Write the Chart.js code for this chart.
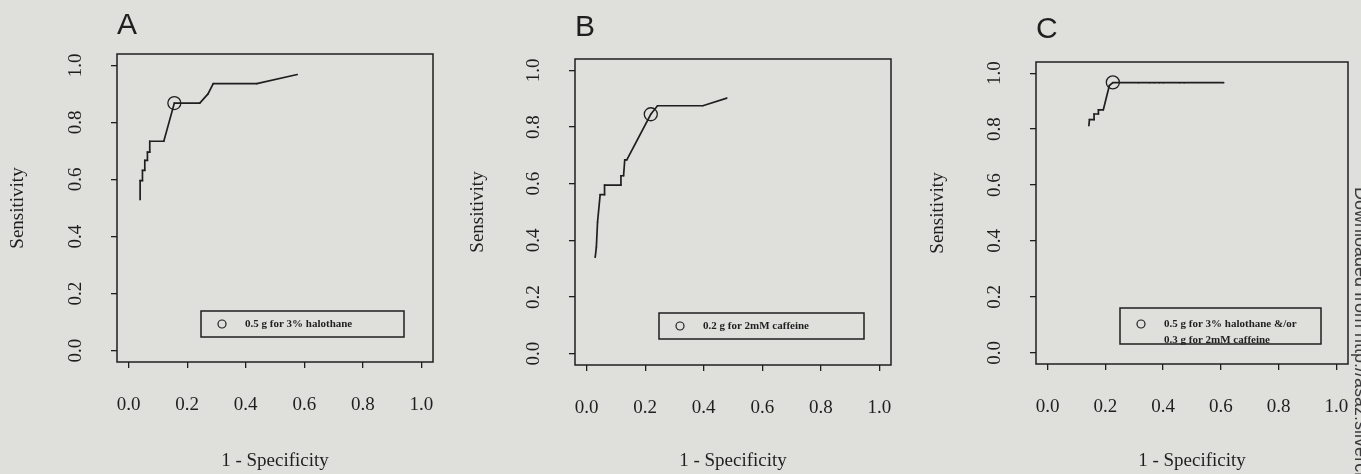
<!DOCTYPE html>
<html>
<head>
<meta charset="utf-8">
<script src="https://cdn.jsdelivr.net/npm/chart.js@4/dist/chart.umd.min.js"></script>
<style>
html,body{margin:0;padding:0;background:#dfdfdc;}
#wrap{position:relative;width:1361px;height:474px;overflow:hidden;background:#dfdfdc;}
canvas{position:absolute;top:0;}
#note{position:absolute;left:1352px;top:187px;font:18px "Liberation Sans",sans-serif;line-height:18px;
  writing-mode:vertical-rl;white-space:nowrap;color:#3a3a3a;}
</style>
</head>
<body>
<div id="wrap">
  <canvas id="cA" width="460" height="474" style="left:0px"></canvas>
  <canvas id="cB" width="460" height="474" style="left:460px"></canvas>
  <canvas id="cC" width="441" height="474" style="left:920px"></canvas>
  <div id="note">Downloaded from http://asaz.silverchair.com</div>
</div>
<script>
// tick values, same on both axes
const xTicks = [0, 0.2, 0.4, 0.6, 0.8, 1.0];
const yTicks = [0, 0.2, 0.4, 0.6, 0.8, 1.0];

// A - halothane contracture
const fprA  = [0.039, 0.039, 0.047, 0.047, 0.055, 0.055, 0.064, 0.064, 0.072, 0.072, 0.120, 0.156, 0.243, 0.271, 0.289, 0.438, 0.576];
const sensA = [0.529, 0.596, 0.596, 0.632, 0.632, 0.667, 0.667, 0.696, 0.696, 0.734, 0.734, 0.868, 0.868, 0.900, 0.936, 0.936, 0.968];
const cutA  = [0.156, 0.868];
const legA  = ["0.5 g for 3% halothane"];

// B - caffeine contracture
const fprB  = [0.029, 0.033, 0.037, 0.046, 0.061, 0.061, 0.117, 0.117, 0.126, 0.130, 0.137, 0.219, 0.242, 0.397, 0.479];
const sensB = [0.340, 0.376, 0.464, 0.561, 0.561, 0.595, 0.595, 0.628, 0.628, 0.684, 0.684, 0.845, 0.875, 0.875, 0.902];
const cutB  = [0.219, 0.845];
const legB  = ["0.2 g for 2mM caffeine"];

// C - combined
const fprC  = [0.143, 0.145, 0.161, 0.161, 0.176, 0.176, 0.193, 0.214, 0.226, 0.315, 0.353, 0.369, 0.387, 0.401, 0.457, 0.473, 0.610];
const sensC = [0.812, 0.834, 0.834, 0.854, 0.854, 0.869, 0.869, 0.956, 0.966, 0.966, 0.966, 0.966, 0.966, 0.966, 0.966, 0.966, 0.966];
const cutC  = [0.226, 0.967];
const legC  = ["0.5 g for 3% halothane &/or", "0.3 g for 2mM caffeine"];

const ink = '#1f1f1f';
const serif = '"Liberation Serif", "Times New Roman", serif';

// box round the plot + R style legend
const frame = {
  id: 'frame',
  afterDraw(chart, args, o) {
    const {ctx, chartArea: a} = chart;
    ctx.save();
    ctx.strokeStyle = ink;
    ctx.lineWidth = 1.5;
    ctx.strokeRect(a.left, a.top, a.right - a.left, a.bottom - a.top);
    // legend
    const l = a.left + o.dl, r = a.right - o.dr, t = a.bottom - o.dt, b = a.bottom - o.db;
    ctx.strokeRect(l, t, r - l, b - t);
    ctx.lineWidth = 1.2;
    ctx.beginPath();
    ctx.arc(l + 21, t + o.first, 4, 0, Math.PI * 2);
    ctx.stroke();
    ctx.fillStyle = ink;
    ctx.font = 'bold 11px ' + serif;
    ctx.textBaseline = 'middle';
    o.lines.forEach((s, i) => ctx.fillText(s, l + 44, t + o.first + i * 16));
    ctx.restore();
  }
};

function panel(id, letter, xs, ys, cut, lines, box) {
  const pts = xs.map((x, i) => ({x: x, y: ys[i]}));
  const W = document.getElementById(id).width, H = 474;
  const axisFont = {family: serif, size: 19};
  new Chart(document.getElementById(id), {
    type: 'scatter',
    data: {
      datasets: [{
        data: pts, showLine: true, borderColor: ink, borderWidth: 1.7,
        pointRadius: 0.8, pointBackgroundColor: ink, pointBorderWidth: 0, tension: 0
      }, {
        data: [{x: cut[0], y: cut[1]}], showLine: false, pointRadius: 6.5,
        pointBorderColor: ink, pointBorderWidth: 1.3, pointBackgroundColor: 'rgba(0,0,0,0)'
      }]
    },
    options: {
      responsive: false, animation: false, devicePixelRatio: 1,
      layout: {padding: {left: 0, right: W - box.right, top: 0, bottom: 0}},
      plugins: {
        legend: {display: false}, tooltip: {enabled: false},
        title: {display: true, text: letter, align: 'start', fullSize: false, color: ink,
          font: {family: '"Liberation Sans", Arial, sans-serif', size: 30, weight: 'normal', lineHeight: 1},
          padding: {top: box.tp, bottom: box.top - box.tp - 30}},
        frame: {lines: lines, dl: box.dl, dr: box.dr, dt: box.dt, db: box.db, first: box.first}
      },
      scales: {
        x: {
          type: 'linear', position: 'bottom', min: -0.04, max: 1.04,
          afterBuildTicks: s => { s.ticks = xTicks.map(v => ({value: v})); },
          afterFit: s => { s.height = H - box.bottom; s.paddingLeft = 0; s.paddingRight = 0; },
          grid: {drawOnChartArea: false, drawTicks: true, tickLength: 6, color: ink, lineWidth: 1.3},
          border: {display: false},
          ticks: {maxRotation: 0, autoSkip: false, padding: 26, color: ink, font: axisFont,
            callback: v => v.toFixed(1)},
          title: {display: true, text: '1 - Specificity', color: ink, font: axisFont, padding: {top: 0, bottom: 2}}
        },
        y: {
          type: 'linear', min: -0.04, max: 1.04,
          afterBuildTicks: s => { s.ticks = yTicks.map(v => ({value: v})); },
          afterFit: s => { s.width = box.left; s.paddingTop = 0; s.paddingBottom = 0; },
          grid: {drawOnChartArea: false, drawTicks: true, tickLength: 6, color: ink, lineWidth: 1.3},
          border: {display: false},
          ticks: {minRotation: 90, maxRotation: 90, crossAlign: 'center', autoSkip: false, padding: 23,
            color: ink, font: axisFont, callback: v => v.toFixed(1)},
          title: {display: true, text: 'Sensitivity', color: ink, font: axisFont, padding: {top: 7, bottom: 0}}
        }
      }
    },
    plugins: [frame]
  });
}

panel('cA', 'A', fprA, sensA, cutA, legA,
  {left: 117, right: 433, top: 54, bottom: 362, tp: 11, dl: 84, dr: 29, dt: 51, db: 25, first: 13});
panel('cB', 'B', fprB, sensB, cutB, legB,
  {left: 115, right: 431, top: 59, bottom: 365, tp: 13, dl: 84, dr: 27, dt: 52, db: 26, first: 13});
panel('cC', 'C', fprC, sensC, cutC, legC,
  {left: 116, right: 428, top: 62, bottom: 364, tp: 15, dl: 84, dr: 27, dt: 56, db: 20, first: 16});
</script>
</body>
</html>
